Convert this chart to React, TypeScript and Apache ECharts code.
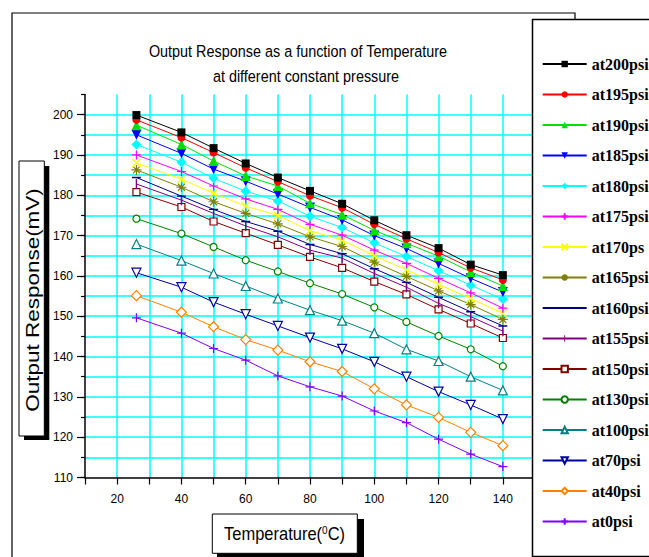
import React, { useEffect, useRef } from 'react';
import * as echarts from 'echarts';

// ---------- data ----------
const temperatures = [26, 40, 50, 60, 70, 80, 90, 100, 110, 120, 130, 140];

const at200psi = [199.9, 195.6, 191.7, 187.9, 184.4, 181.1, 177.9, 173.8, 170.1, 166.9, 162.8, 160.2];
const at195psi = [198.7, 194.3, 190.6, 186.8, 183.4, 179.9, 176.9, 172.8, 169.2, 165.8, 162.0, 159.0];
const at190psi = [197.4, 192.6, 188.5, 184.8, 182.3, 178.0, 175.2, 171.3, 168.1, 164.9, 161.0, 157.5];
const at185psi = [195.0, 190.4, 186.5, 183.5, 180.3, 177.0, 173.9, 170.0, 166.8, 163.1, 159.4, 156.0];
const at180psi = [192.6, 188.2, 184.2, 181.0, 178.6, 174.8, 172.0, 168.2, 164.8, 161.3, 157.7, 154.2];
const at175psi = [190.0, 185.9, 182.3, 179.1, 176.5, 172.8, 170.1, 166.4, 163.1, 159.4, 155.8, 152.0];
const at170ps = [188.0, 184.0, 180.5, 177.3, 175.0, 171.2, 168.9, 165.0, 161.5, 157.9, 154.4, 150.7];
const at165psi = [186.3, 182.0, 178.4, 175.5, 172.9, 169.7, 167.3, 163.4, 159.9, 156.3, 152.9, 149.2];
const at160psi = [184.4, 179.8, 176.5, 173.5, 171.1, 167.8, 165.5, 161.8, 158.4, 154.7, 151.1, 147.6];
const at155psi = [182.8, 178.8, 175.5, 172.4, 169.7, 166.4, 164.4, 160.6, 157.2, 153.2, 149.9, 146.3];
const at150psi = [180.8, 177.1, 173.5, 170.6, 167.7, 164.7, 162.0, 158.6, 155.4, 151.7, 148.2, 144.6];
const at130psi = [174.2, 170.5, 167.2, 163.9, 161.1, 158.2, 155.5, 152.2, 148.6, 145.1, 141.8, 137.6];
const at100psi = [167.9, 163.8, 160.6, 157.5, 154.4, 151.5, 148.9, 145.8, 141.8, 138.9, 135.0, 131.6];
const at70psi = [160.8, 157.2, 153.5, 150.5, 147.6, 144.7, 141.9, 138.7, 135.0, 131.3, 128.0, 124.5];
const at40psi = [155.1, 151.0, 147.4, 144.2, 141.6, 138.7, 136.3, 132.0, 128.0, 124.9, 121.2, 117.9];
const at0psi = [149.6, 145.8, 142.0, 139.1, 135.2, 132.5, 130.2, 126.5, 123.6, 119.5, 115.8, 112.7];

const seriesNames = [
  'at200psi', 'at195psi', 'at190psi', 'at185psi', 'at180psi', 'at175psi', 'at170ps', 'at165psi',
  'at160psi', 'at155psi', 'at150psi', 'at130psi', 'at100psi', 'at70psi', 'at40psi', 'at0psi',
];
const seriesValues = [
  at200psi, at195psi, at190psi, at185psi, at180psi, at175psi, at170ps, at165psi,
  at160psi, at155psi, at150psi, at130psi, at100psi, at70psi, at40psi, at0psi,
];

const yTickLabels = [110, 120, 130, 140, 150, 160, 170, 180, 190, 200];
const xTickLabels = [20, 40, 60, 80, 100, 120, 140];

const titleLine1 = 'Output Response as a function of Temperature';
const titleLine2 = 'at different constant pressure';
const yAxisTitle = 'Output Response(mV)';

// ---------- styles ----------
const PLUS = 'path://M5,0L5,10M0,5L10,5';
const CROSS = 'path://M0,0L10,10M10,0L0,10';
const STAR = 'path://M5,0L5,10M0,5L10,5M1.5,1.5L8.5,8.5M8.5,1.5L1.5,8.5';
const DASH = 'path://M0,0h0.001v0.001h-0.001zM0,4.2h10v1.6h-10zM9.999,9.999h0.001v0.001h-0.001z';
const VTICK = 'path://M0,0h0.001v0.001h-0.001zM4.3,0h1.4v10h-1.4zM9.999,9.999h0.001v0.001h-0.001z';

type Sty = { color: string; symbol: string; size: number; rot?: number; kind: 'fill' | 'open' | 'stroke' };
const styles: Sty[] = [
  { color: '#000000', symbol: 'rect', size: 8, kind: 'fill' },
  { color: '#ff0000', symbol: 'circle', size: 8, kind: 'fill' },
  { color: '#00e000', symbol: 'triangle', size: 10, kind: 'fill' },
  { color: '#0000ff', symbol: 'triangle', size: 10, rot: 180, kind: 'fill' },
  { color: '#00ffff', symbol: 'diamond', size: 10, kind: 'fill' },
  { color: '#ff00ff', symbol: PLUS, size: 9, kind: 'stroke' },
  { color: '#ffff00', symbol: CROSS, size: 8, kind: 'stroke' },
  { color: '#808000', symbol: STAR, size: 10, kind: 'stroke' },
  { color: '#000080', symbol: DASH, size: 9, kind: 'fill' },
  { color: '#800080', symbol: VTICK, size: 10, kind: 'fill' },
  { color: '#800000', symbol: 'rect', size: 7, kind: 'open' },
  { color: '#008000', symbol: 'circle', size: 7, kind: 'open' },
  { color: '#008080', symbol: 'triangle', size: 9, kind: 'open' },
  { color: '#0000a0', symbol: 'triangle', size: 9, rot: 180, kind: 'open' },
  { color: '#ff8000', symbol: 'diamond', size: 10, kind: 'open' },
  { color: '#8000ff', symbol: PLUS, size: 9, kind: 'stroke' },
];

const GRID_COLOR = '#00ffff';

export default function App() {
  const ref = useRef<HTMLDivElement>(null);

  useEffect(() => {
    if (!ref.current) return;
    const chart = echarts.init(ref.current, null, { renderer: 'svg' });

    const series = seriesNames.map((name, i) => {
      const s = styles[i];
      return {
        type: 'line',
        name,
        data: temperatures.map((t, k) => [t, seriesValues[i][k]]),
        symbol: s.symbol,
        symbolSize: s.size,
        symbolRotate: s.rot || 0,
        showSymbol: true,
        lineStyle: { color: s.color, width: 1 },
        itemStyle: {
          color: s.kind === 'open' ? '#ffffff' : s.color,
          borderColor: s.color,
          borderWidth: s.kind === 'fill' ? 0 : s.kind === 'open' ? 1.2 : 1.2,
        },
        emphasis: { disabled: true },
        z: 2 + (seriesNames.length - i) * 0.01,
      };
    });

    const option: any = {
      animation: false,
      backgroundColor: '#ffffff',
      grid: { left: 85, top: 94.5, width: 450, height: 383 },
      xAxis: {
        type: 'value',
        min: 10,
        max: 150,
        interval: 10,
        axisLine: { show: true, onZero: false, lineStyle: { color: '#000', width: 1.5 } },
        axisTick: { show: true, length: 7, lineStyle: { color: '#000', width: 1.2 } },
        axisLabel: {
          formatter: (v: number) => (xTickLabels.includes(v) ? String(v) : ''),
          margin: 15,
          color: '#000',
          fontFamily: 'Liberation Sans',
          fontSize: 12,
        },
        splitLine: { show: true, showMinLine: false, lineStyle: { color: GRID_COLOR, width: 1.5 } },
      },
      yAxis: [
        {
          type: 'value',
          position: 'left',
          min: 110,
          max: 205,
          interval: 5,
          axisLine: { show: true, onZero: false, lineStyle: { color: '#000', width: 1.5 } },
          axisTick: { show: true, length: 4, lineStyle: { color: '#000', width: 1.2 } },
          axisLabel: {
            formatter: (v: number) => (yTickLabels.includes(v) ? String(v) : ''),
            margin: 12,
            color: '#000',
            fontFamily: 'Liberation Sans',
            fontSize: 12,
          },
          splitLine: {
            show: true,
            showMinLine: false,
            showMaxLine: false,
            lineStyle: { color: GRID_COLOR, width: 1.5 },
          },
        },
        {
          type: 'value',
          position: 'left',
          offset: 0,
          min: 110,
          max: 205,
          interval: 5,
          axisLine: { show: false, onZero: false },
          axisTick: { show: true, length: 8, customValues: yTickLabels, lineStyle: { color: '#000', width: 1.2 } },
          axisLabel: { show: false },
          splitLine: { show: false },
        },
      ],
      legend: {
        orient: 'vertical',
        left: 541.7,
        top: 54,
        padding: 0,
        itemWidth: 44,
        itemHeight: 8,
        itemGap: 10.5,
        selectedMode: false,
        data: seriesNames,
        textStyle: {
          fontFamily: 'Liberation Serif',
          fontWeight: 'bold',
          fontSize: 16,
          color: '#000',
          lineHeight: 20,
        },
        z: 10,
      },
      graphic: [
        {
          type: 'rect',
          z: 0,
          shape: { x: 12, y: 13, width: 563, height: 600 },
          style: { fill: 'none', stroke: '#000', lineWidth: 1.2 },
        },
        {
          type: 'rect',
          z: 5,
          shape: { x: 532.5, y: 19.5, width: 130, height: 537 },
          style: { fill: '#fff', stroke: '#000', lineWidth: 1.5 },
        },
        {
          type: 'text',
          x: 298,
          y: 51.5,
          scaleY: 1.13,
          z: 5,
          style: {
            text: titleLine1,
            fontFamily: 'Liberation Sans',
            fontSize: 14.4,
            fill: '#000',
            textAlign: 'center',
            textVerticalAlign: 'middle',
          },
        },
        {
          type: 'text',
          x: 306,
          y: 76,
          scaleY: 1.13,
          z: 5,
          style: {
            text: titleLine2,
            fontFamily: 'Liberation Sans',
            fontSize: 14.4,
            fill: '#000',
            textAlign: 'center',
            textVerticalAlign: 'middle',
          },
        },
        // y-axis title box with shadow
        {
          type: 'rect',
          z: 5,
          shape: { x: 24, y: 166, width: 25.3, height: 274 },
          style: { fill: '#000' },
        },
        {
          type: 'rect',
          z: 6,
          shape: { x: 19, y: 161, width: 25.3, height: 275 },
          style: { fill: '#fff', stroke: '#000', lineWidth: 1 },
        },
        {
          type: 'text',
          x: 32.5,
          y: 300,
          rotation: Math.PI / 2,
          scaleX: 1.25,
          z: 7,
          style: {
            text: yAxisTitle,
            fontFamily: 'Liberation Sans',
            fontSize: 18,
            fill: '#000',
            textAlign: 'center',
            textVerticalAlign: 'middle',
          },
        },
        // x-axis title box with shadow
        {
          type: 'rect',
          z: 5,
          shape: { x: 217, y: 519, width: 147, height: 45 },
          style: { fill: '#000' },
        },
        {
          type: 'rect',
          z: 6,
          shape: { x: 212.3, y: 514, width: 145, height: 39.3 },
          style: { fill: '#fff', stroke: '#000', lineWidth: 1 },
        },
        {
          type: 'text',
          x: 284.5,
          y: 534,
          scaleY: 1.13,
          z: 7,
          style: {
            text: '{a|Temperature(}{s|0}{a|C)}',
            fill: '#000',
            textAlign: 'center',
            textVerticalAlign: 'middle',
            rich: {
              a: { fontFamily: 'Liberation Sans', fontSize: 16.5, fill: '#000', verticalAlign: 'bottom' },
              s: { fontFamily: 'Liberation Sans', fontSize: 10, fill: '#000', verticalAlign: 'top' },
            },
          },
        },
      ],
      series,
    };

    chart.setOption(option);
    return () => chart.dispose();
  }, []);

  return (
    <div
      ref={ref}
      style={{ position: 'fixed', left: 0, top: 0, width: 649, height: 557, background: '#fff' }}
    />
  );
}
